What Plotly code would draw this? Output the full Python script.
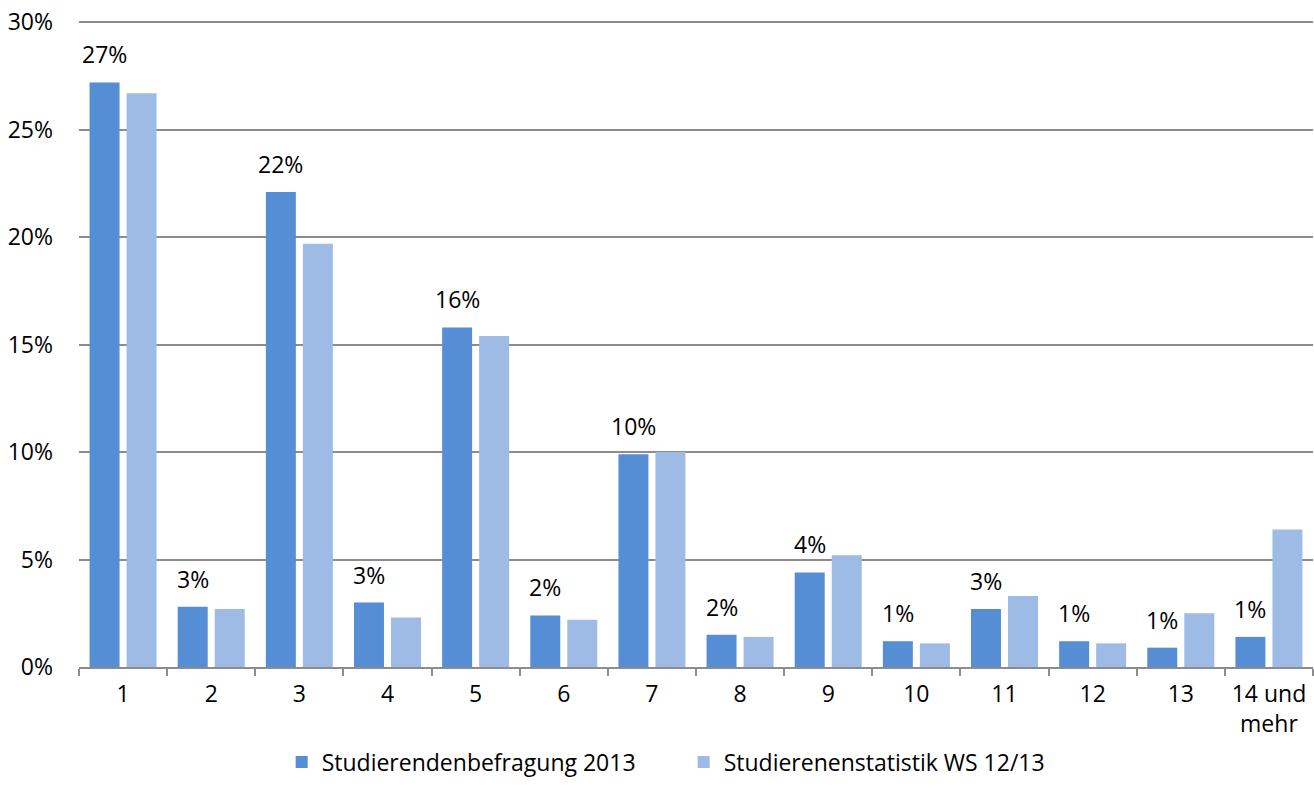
"""Semester distribution: survey 2013 vs. official statistics WS 12/13."""

import plotly.graph_objects as go

CATEGORIES = ["1", "2", "3", "4", "5", "6", "7", "8", "9", "10", "11", "12", "13", "14 und<br>mehr"]
BEFRAGUNG_2013 = [27.2, 2.8, 22.1, 3.0, 15.8, 2.4, 9.9, 1.5, 4.4, 1.2, 2.7, 1.2, 0.9, 1.4]
STATISTIK_WS = [26.7, 2.7, 19.7, 2.3, 15.4, 2.2, 10.0, 1.4, 5.2, 1.1, 3.3, 1.1, 2.5, 6.4]
Y_TICKS = [0, 5, 10, 15, 20, 25, 30]

_DARK = "#558ed5"
_LIGHT = "#9dbbe5"
_GRID = "#8c8c8c"
_INK = "#000000"
_FONT = "Open Sans"
_SIZE = 23

fig = go.Figure()
fig.add_trace(go.Bar(x=CATEGORIES, y=BEFRAGUNG_2013, name="Studierendenbefragung 2013",
                     marker={"color": _DARK, "line": {"width": 0}}, hoverinfo="y"))
fig.add_trace(go.Bar(x=CATEGORIES, y=STATISTIK_WS, name="Studierenenstatistik WS 12/13",
                     marker={"color": _LIGHT, "line": {"width": 0}}, hoverinfo="y"))

# data labels only on the survey series, rounded like Excel does.
# x is given as the category index so "1", "2"... aren't read as positions.
for i, val in enumerate(BEFRAGUNG_2013):
    fig.add_annotation(x=i, y=val, text=f"{round(val):.0f}%", showarrow=False,
                       xshift=-18.5, yshift=10, yanchor="bottom",
                       font={"size": _SIZE, "color": _INK, "family": _FONT})

# the y range runs a hair past 30% so the top gridline and its label survive.
fig.update_layout(
    width=1314, height=803,
    paper_bgcolor="white", plot_bgcolor="white",
    font={"family": _FONT, "size": _SIZE, "color": _INK},
    barmode="group", bargap=0.16, bargroupgap=0.19,
    margin={"l": 79, "r": 1, "t": 18, "b": 136},
    showlegend=True,
    legend={"orientation": "h", "xanchor": "center", "x": 0.49,
            "yref": "container", "yanchor": "middle", "y": 0.051,
            "entrywidth": 357, "itemwidth": 30,
            "font": {"size": _SIZE, "family": _FONT}, "traceorder": "normal"},
    xaxis={"type": "category", "showgrid": False, "showline": True, "linecolor": _GRID,
           "linewidth": 1.5, "ticks": "outside", "tickson": "boundaries", "ticklen": 7,
           "tickcolor": _GRID, "tickwidth": 1.5, "ticklabelstandoff": 6, "fixedrange": True},
    yaxis={"range": [0, 30.2], "tickvals": Y_TICKS, "ticktext": [f"{v}%" for v in Y_TICKS],
           "showgrid": True, "gridcolor": _GRID, "gridwidth": 1.5, "zeroline": False,
           "showline": False, "ticks": "", "ticklabelstandoff": 25, "automargin": False,
           "fixedrange": True},
)

# drop the browser's default 8px body margin so the figure fills the window
fig.write_html("out.html", config={"displayModeBar": False},
               post_script="document.body.style.margin = '0';")
